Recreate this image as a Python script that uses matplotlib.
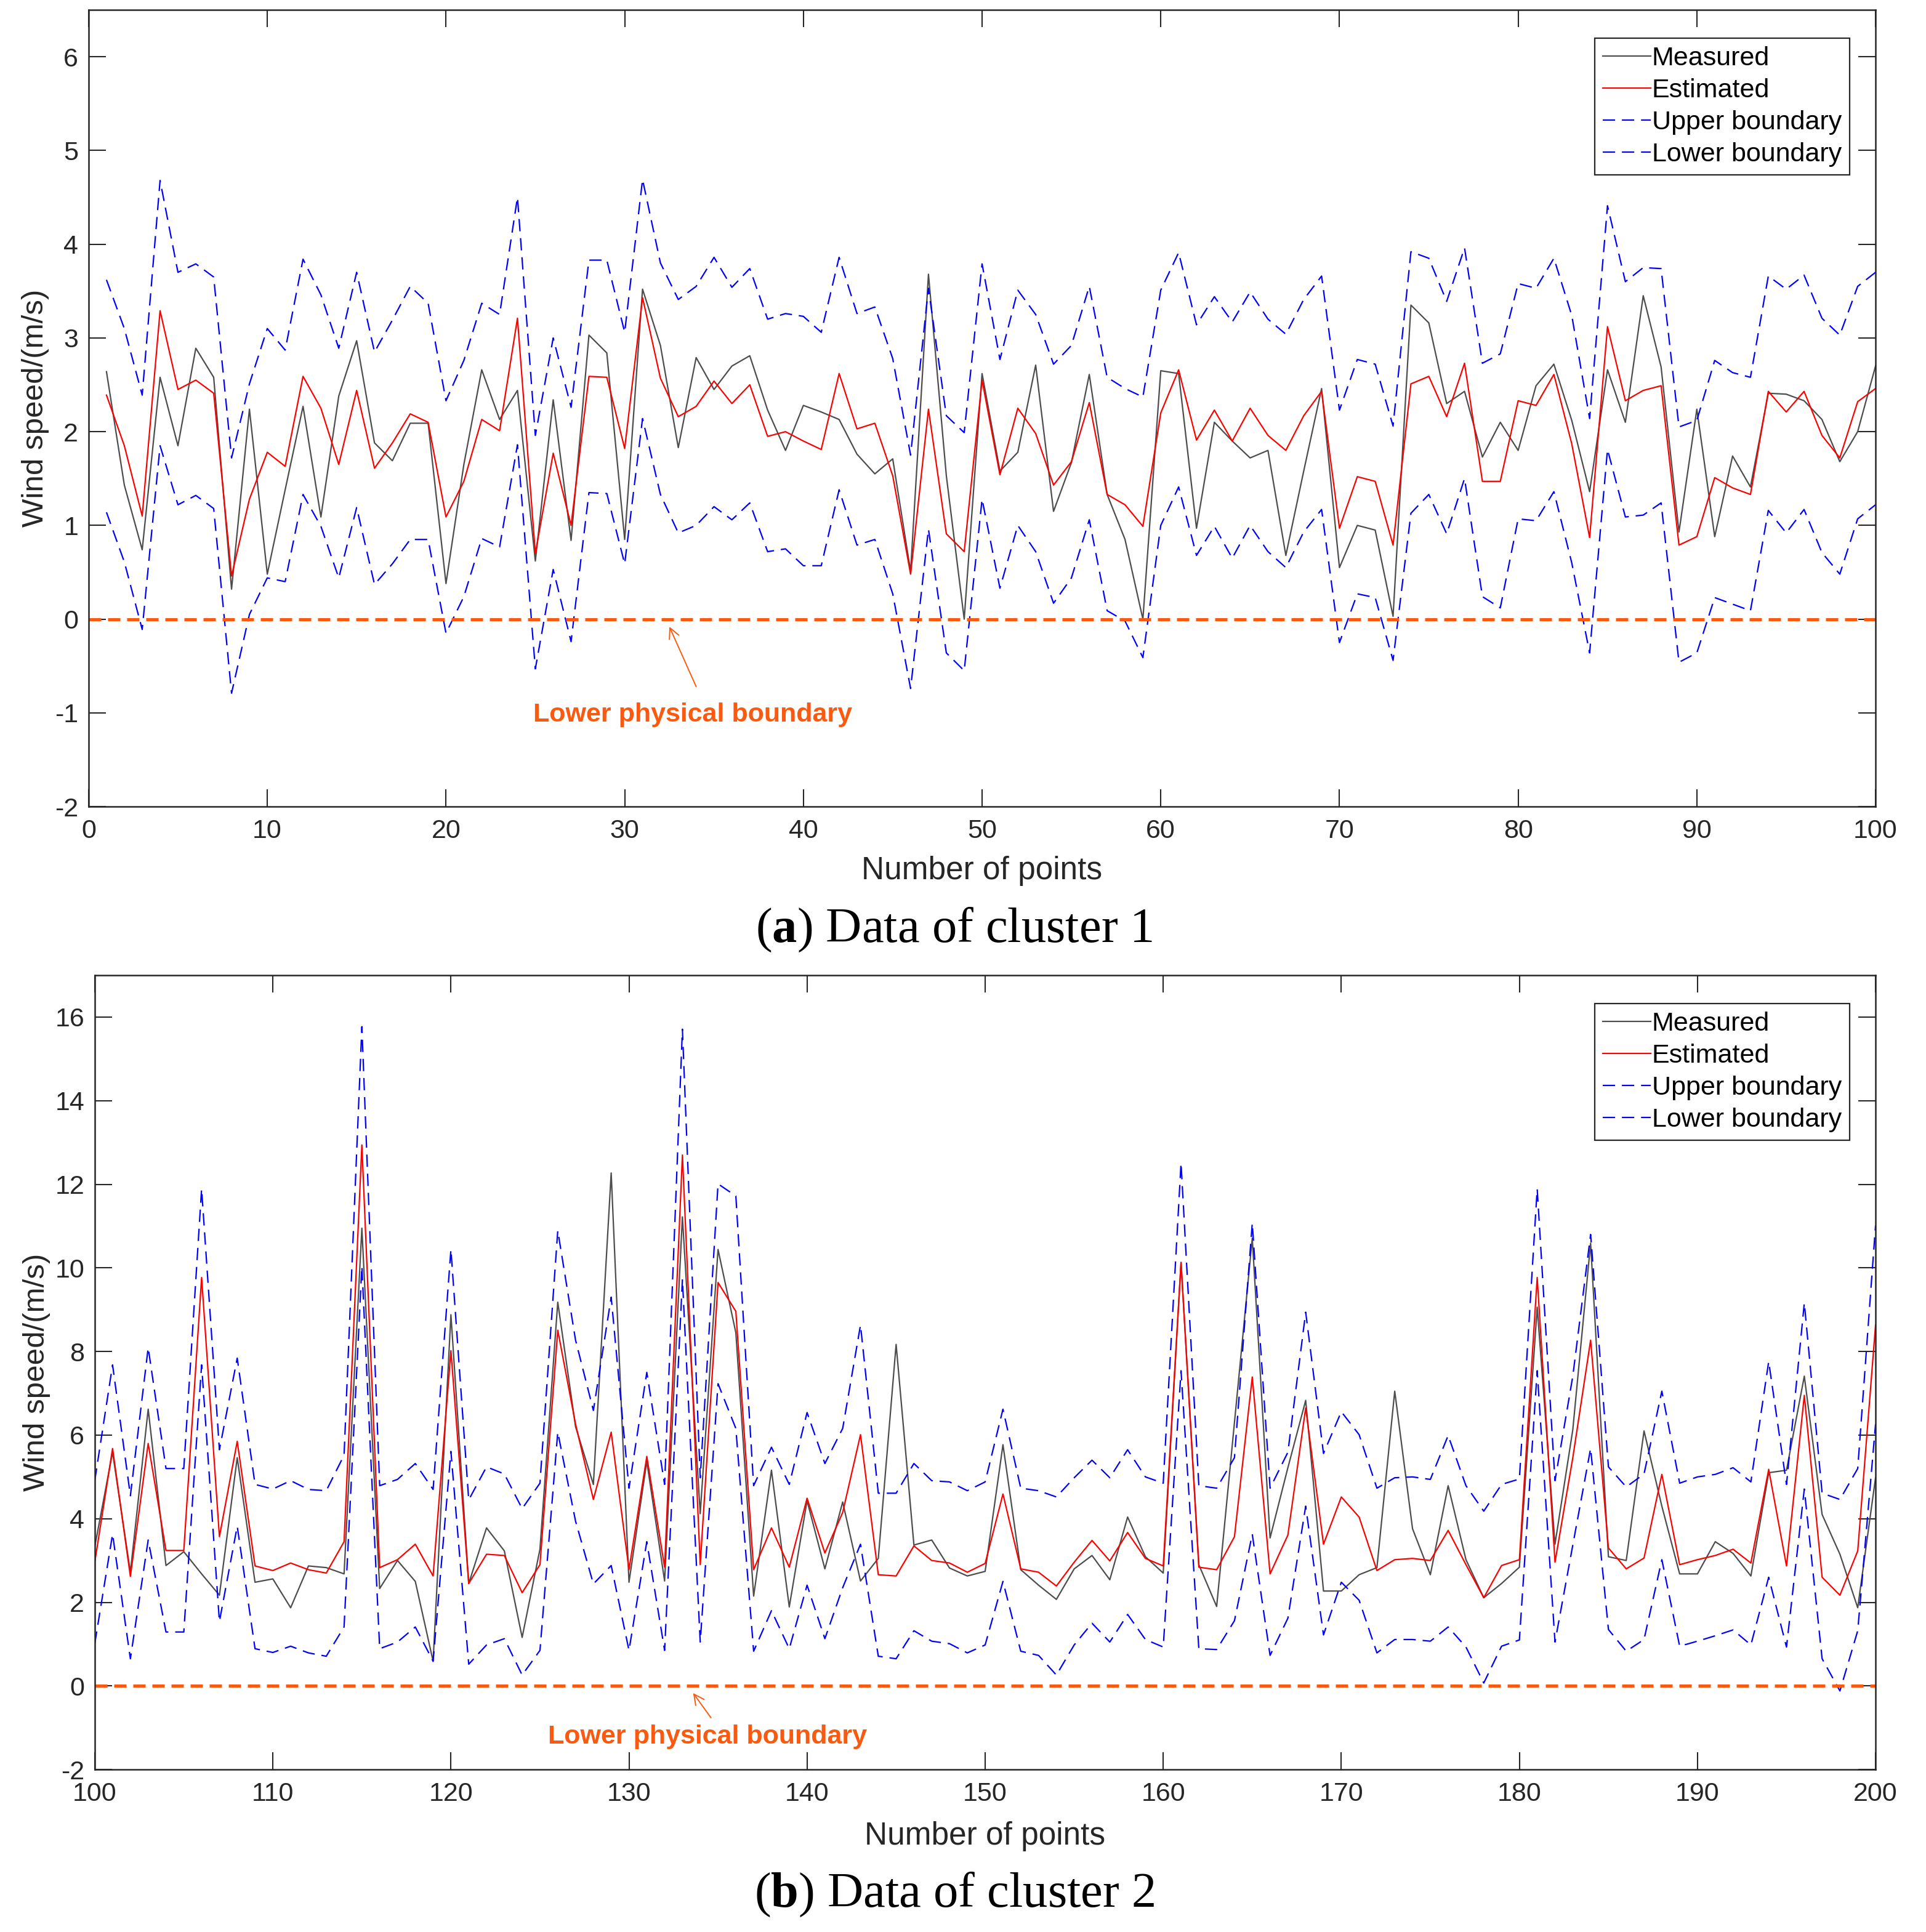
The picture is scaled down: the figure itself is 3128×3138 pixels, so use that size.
import numpy as np
import matplotlib
matplotlib.use("Agg")
import matplotlib.pyplot as plt

# ---------------- data ----------------
x_a = np.arange(1, 101)
measured_a = [2.64, 1.43, 0.74, 2.58, 1.85, 2.89, 2.58, 0.32, 2.24, 0.48,
              1.38, 2.27, 1.09, 2.38, 2.97, 1.88, 1.69, 2.09, 2.09, 0.38,
              1.65, 2.66, 2.13, 2.44, 0.62, 2.34, 0.84, 3.03, 2.84, 0.85,
              3.52, 2.92, 1.83, 2.79, 2.45, 2.70, 2.81, 2.23, 1.80, 2.28,
              2.21, 2.13, 1.76, 1.55, 1.71, 0.51, 3.68, 1.53, 0.00, 2.62,
              1.58, 1.78, 2.71, 1.15, 1.67, 2.61, 1.33, 0.85, 0.00, 2.65,
              2.62, 0.97, 2.10, 1.90, 1.72, 1.80, 0.68, 1.58, 2.46, 0.55,
              1.00, 0.95, 0.03, 3.35, 3.16, 2.30, 2.43, 1.73, 2.10, 1.80,
              2.49, 2.72, 2.12, 1.36, 2.66, 2.10, 3.45, 2.69, 0.93, 2.24,
              0.88, 1.74, 1.41, 2.41, 2.40, 2.33, 2.13, 1.68, 2.00, 2.70]
estimated_a = [2.39, 1.85, 1.10, 3.29, 2.45, 2.55, 2.41, 0.46, 1.28, 1.78,
               1.63, 2.59, 2.25, 1.65, 2.44, 1.61, 1.88, 2.19, 2.10, 1.09,
               1.47, 2.13, 2.01, 3.21, 0.70, 1.77, 1.00, 2.59, 2.58, 1.82,
               3.43, 2.57, 2.16, 2.27, 2.54, 2.30, 2.50, 1.95, 2.00, 1.90,
               1.81, 2.62, 2.03, 2.09, 1.53, 0.48, 2.24, 0.91, 0.72, 2.55,
               1.54, 2.25, 1.98, 1.43, 1.68, 2.31, 1.33, 1.22, 0.99, 2.20,
               2.66, 1.91, 2.23, 1.90, 2.25, 1.96, 1.80, 2.17, 2.43, 0.97,
               1.52, 1.47, 0.79, 2.51, 2.59, 2.16, 2.73, 1.47, 1.47, 2.33,
               2.28, 2.61, 1.87, 0.87, 3.12, 2.33, 2.44, 2.49, 0.79, 0.88,
               1.51, 1.40, 1.33, 2.43, 2.21, 2.43, 1.96, 1.72, 2.32, 2.46]
upper_a = [3.62, 3.10, 2.39, 4.68, 3.70, 3.79, 3.65, 1.72, 2.51, 3.10,
           2.87, 3.84, 3.46, 2.89, 3.70, 2.85, 3.19, 3.55, 3.37, 2.33,
           2.76, 3.37, 3.25, 4.50, 1.96, 3.00, 2.26, 3.83, 3.83, 3.06,
           4.69, 3.80, 3.41, 3.55, 3.86, 3.54, 3.74, 3.20, 3.26, 3.23,
           3.06, 3.86, 3.26, 3.33, 2.78, 1.75, 3.53, 2.17, 1.99, 3.79,
           2.77, 3.51, 3.25, 2.72, 2.92, 3.55, 2.58, 2.46, 2.37, 3.51,
           3.91, 3.14, 3.44, 3.17, 3.49, 3.20, 3.04, 3.41, 3.66, 2.23,
           2.77, 2.72, 2.06, 3.92, 3.85, 3.39, 3.96, 2.73, 2.83, 3.58,
           3.53, 3.85, 3.24, 2.14, 4.41, 3.60, 3.75, 3.74, 2.05, 2.12,
           2.76, 2.63, 2.58, 3.66, 3.52, 3.67, 3.21, 3.03, 3.55, 3.70]
lower_a = [1.14, 0.61, -0.11, 1.85, 1.22, 1.32, 1.18, -0.79, 0.05, 0.44,
           0.40, 1.33, 0.99, 0.44, 1.19, 0.37, 0.59, 0.85, 0.85, -0.15,
           0.24, 0.86, 0.77, 1.86, -0.53, 0.53, -0.24, 1.35, 1.34, 0.59,
           2.14, 1.33, 0.92, 1.00, 1.20, 1.06, 1.24, 0.72, 0.75, 0.57,
           0.57, 1.38, 0.79, 0.85, 0.27, -0.74, 0.96, -0.36, -0.55, 1.28,
           0.33, 1.00, 0.72, 0.17, 0.44, 1.06, 0.09, -0.02, -0.41, 1.00,
           1.41, 0.68, 0.99, 0.65, 1.00, 0.72, 0.55, 0.93, 1.17, -0.25,
           0.27, 0.23, -0.44, 1.13, 1.33, 0.91, 1.50, 0.24, 0.12, 1.07,
           1.05, 1.36, 0.60, -0.36, 1.81, 1.09, 1.11, 1.24, -0.46, -0.36,
           0.23, 0.16, 0.09, 1.16, 0.92, 1.17, 0.71, 0.48, 1.07, 1.22]

x_b = np.arange(100, 201)
measured_b = [3.33, 5.59, 2.72, 6.62, 2.88, 3.21, 2.68, 2.17, 5.46, 2.48,
              2.56, 1.87, 2.87, 2.83, 2.68, 10.95, 2.33, 3.00, 2.50, 0.59,
              8.88, 2.45, 3.78, 3.23, 1.16, 3.27, 9.18, 6.20, 4.82, 12.27,
              2.48, 5.37, 2.51, 11.22, 4.12, 10.44, 8.45, 2.15, 5.16, 1.89,
              4.43, 2.80, 4.40, 2.51, 3.05, 8.17, 3.37, 3.49, 2.82, 2.63,
              2.74, 5.77, 2.78, 2.41, 2.07, 2.80, 3.12, 2.54, 4.04, 3.09,
              2.70, 10.13, 2.90, 1.90, 6.30, 10.71, 3.54, 5.22, 6.83, 2.27,
              2.27, 2.66, 2.83, 7.05, 3.76, 2.66, 4.79, 3.02, 2.11, 2.45,
              2.84, 9.06, 3.39, 6.13, 10.59, 3.09, 3.00, 6.10, 4.30, 2.68,
              2.68, 3.45, 3.17, 2.63, 5.10, 5.16, 7.41, 4.10, 3.15, 1.87,
              4.98]
estimated_b = [2.96, 5.68, 2.62, 5.80, 3.24, 3.24, 9.77, 3.57, 5.85, 2.87,
               2.76, 2.94, 2.78, 2.70, 3.45, 12.94, 2.83, 3.02, 3.39, 2.63,
               8.02, 2.45, 3.15, 3.12, 2.23, 2.90, 8.51, 6.26, 4.46, 6.07,
               2.78, 5.49, 2.84, 12.70, 2.90, 9.65, 8.96, 2.78, 3.78, 2.84,
               4.49, 3.18, 4.15, 6.01, 2.66, 2.63, 3.35, 3.00, 2.94, 2.72,
               2.93, 4.59, 2.80, 2.72, 2.39, 2.96, 3.48, 2.99, 3.67, 3.05,
               2.87, 10.13, 2.84, 2.78, 3.57, 7.39, 2.68, 3.61, 6.65, 3.39,
               4.52, 4.04, 2.76, 3.02, 3.05, 3.00, 3.72, 2.90, 2.11, 2.88,
               3.02, 9.77, 2.96, 5.46, 8.27, 3.30, 2.80, 3.06, 5.06, 2.90,
               3.02, 3.12, 3.27, 2.94, 5.18, 2.87, 6.95, 2.60, 2.17, 3.23,
               8.63]
upper_b = [4.91, 7.68, 4.55, 8.09, 5.20, 5.20, 11.89, 5.65, 7.84, 4.82,
           4.71, 4.91, 4.70, 4.67, 5.52, 15.77, 4.79, 4.94, 5.32, 4.70,
           10.44, 4.45, 5.24, 5.07, 4.24, 4.85, 10.89, 8.27, 6.59, 9.30,
           4.73, 7.50, 4.82, 15.71, 4.98, 12.01, 11.72, 4.79, 5.71, 4.82,
           6.54, 5.32, 6.16, 8.63, 4.61, 4.61, 5.32, 4.91, 4.88, 4.67,
           4.88, 6.62, 4.73, 4.67, 4.52, 4.98, 5.40, 4.98, 5.65, 5.00,
           4.85, 12.51, 4.79, 4.73, 5.46, 11.07, 4.73, 5.59, 8.94, 5.56,
           6.56, 6.01, 4.73, 4.98, 5.00, 4.94, 5.99, 4.79, 4.18, 4.82,
           4.95, 11.89, 4.91, 7.41, 10.80, 5.24, 4.76, 5.07, 7.05, 4.85,
           5.00, 5.06, 5.22, 4.88, 7.76, 4.82, 9.16, 4.61, 4.46, 5.20,
           11.01]
lower_b = [1.01, 3.63, 0.65, 3.49, 1.29, 1.29, 7.68, 1.54, 3.82, 0.89,
           0.80, 0.95, 0.79, 0.71, 1.41, 10.04, 0.89, 1.05, 1.41, 0.59,
           5.61, 0.52, 0.98, 1.13, 0.26, 0.85, 6.07, 3.94, 2.44, 2.88,
           0.85, 3.45, 0.85, 9.73, 1.05, 7.23, 6.16, 0.83, 1.80, 0.89,
           2.41, 1.13, 2.35, 3.39, 0.71, 0.65, 1.32, 1.07, 1.01, 0.79,
           0.98, 2.50, 0.83, 0.73, 0.26, 0.98, 1.50, 1.05, 1.71, 1.11,
           0.93, 7.54, 0.89, 0.87, 1.56, 3.63, 0.73, 1.62, 4.30, 1.22,
           2.48, 2.05, 0.79, 1.11, 1.11, 1.07, 1.41, 0.93, 0.07, 0.95,
           1.10, 7.54, 1.05, 3.37, 5.68, 1.35, 0.83, 1.11, 3.02, 0.95,
           1.07, 1.20, 1.34, 0.98, 2.60, 0.93, 4.71, 0.65, -0.12, 1.32,
           6.26]

series_labels = ["Measured", "Estimated", "Upper boundary", "Lower boundary"]
captions = [r"($\mathbf{a}$) Data of cluster 1", r"($\mathbf{b}$) Data of cluster 2"]

# ---------------- style ----------------
plt.rcParams["font.family"] = ["Liberation Sans", "DejaVu Sans"]
plt.rcParams["axes.unicode_minus"] = False
plt.rcParams["mathtext.fontset"] = "custom"
plt.rcParams["mathtext.rm"] = "Liberation Serif"
plt.rcParams["mathtext.bf"] = "Liberation Serif:bold"

DARK = "#262626"
ORANGE = "#fa5a0f"

fig = plt.figure(figsize=(31.28, 31.38), dpi=100)
ax_a = fig.add_axes([0.0460, 0.5825, 0.9278, 0.4124])
ax_b = fig.add_axes([0.0492, 0.0841, 0.9246, 0.4111])


def draw_panel(ax, x, meas, est, up, low, xlim, ylim, yticks, arrow_xy, text_xy):
    ax.plot(x, meas, color="#4d4d4d", lw=1.6, label=series_labels[0])
    ax.plot(x, est, color="#ff0000", lw=1.6, label=series_labels[1])
    ax.plot(x, up, color="#0000ff", lw=1.6, ls="--", dashes=(9, 5), label=series_labels[2])
    ax.plot(x, low, color="#0000ff", lw=1.6, ls="--", dashes=(9, 5), label=series_labels[3])
    # lower physical boundary at zero
    ax.plot(xlim, [0, 0], color=ORANGE, lw=3.6, ls="--", dashes=(4, 2.2))

    ax.annotate("", xy=arrow_xy[0], xytext=arrow_xy[1],
                arrowprops=dict(arrowstyle="->", color=ORANGE, lw=1.4,
                                shrinkA=0, shrinkB=0, mutation_scale=30))
    ax.text(text_xy[0], text_xy[1], "Lower physical boundary", color=ORANGE,
            fontsize=31, fontweight="bold", ha="center", va="center")

    ax.set_xlim(xlim)
    ax.set_ylim(ylim)
    ax.set_xticks(np.arange(xlim[0], xlim[1] + 1, 10))
    ax.set_yticks(yticks)
    ax.tick_params(direction="in", length=20, width=1.5, colors=DARK,
                   labelsize=31, top=True, right=True)
    ax.tick_params(axis="x", pad=14)
    ax.tick_params(axis="y", pad=12)
    for s in ax.spines.values():
        s.set_color(DARK)
        s.set_linewidth(1.8)

    ax.set_xlabel("Number of points", fontsize=37, color=DARK)
    ax.set_ylabel("Wind speed/(m/s)", fontsize=35.5, color=DARK)

    leg = ax.legend(loc="upper right", bbox_to_anchor=(0.9855, 0.9645),
                    fontsize=31, frameon=True, fancybox=False, framealpha=1,
                    handlelength=1.8, handletextpad=0.05, labelspacing=0.28,
                    borderpad=0.3, borderaxespad=0)
    leg.get_frame().set_edgecolor(DARK)
    leg.get_frame().set_linewidth(1.6)
    return ax


draw_panel(ax_a, x_a, measured_a, estimated_a, upper_a, lower_a,
           (0, 100), (-2, 6.5), np.arange(-2, 7, 1),
           ((32.5, -0.08), (34.0, -0.72)), (33.8, -1.02))
ax_a.xaxis.set_label_coords(0.5, -0.062)
ax_a.yaxis.set_label_coords(-0.022, 0.5)

draw_panel(ax_b, x_b, measured_b, estimated_b, upper_b, lower_b,
           (100, 200), (-2, 17), np.arange(-2, 17, 2),
           ((133.6, -0.17), (134.6, -0.76)), (134.4, -1.22))
ax_b.xaxis.set_label_coords(0.5, -0.065)
ax_b.yaxis.set_label_coords(-0.025, 0.5)

fig.text(0.4955, 0.519, captions[0], fontsize=58, ha="center", va="center",
         family="Liberation Serif", color="black")
fig.text(0.4955, 0.0195, captions[1], fontsize=58, ha="center", va="center",
         family="Liberation Serif", color="black")

fig.savefig("out.png", dpi=100, facecolor="white")
